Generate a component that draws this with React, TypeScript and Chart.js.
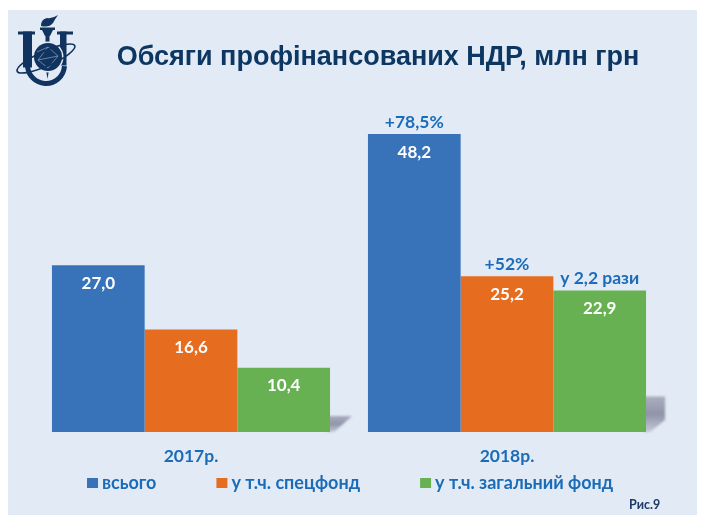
import React, { useEffect, useRef } from "react";
import { Chart, registerables } from "chart.js";

Chart.register(...registerables);

const TITLE = "Обсяги профінансованих НДР, млн грн";
const FIGURE = "Рис.9";
const categories = ["2017р.", "2018р."];
const seriesNames = ["всього", "у т.ч. спецфонд", "у т.ч. загальний фонд"];
const total = [27.0, 48.2];
const special = [16.6, 25.2];
const general = [10.4, 22.9];
const totalNotes = ["", "+78,5%"];
const specialNotes = ["", "+52%"];
const generalNotes = ["", "у 2,2 рази"];
const colors = ["#3873BA", "#E66C1F", "#67B153"];

const PANEL = "#E2EAF5";
const NAVY = "#10345F";
const LABEL_BLUE = "#1B6CB8";
const LATO = "'Lato', sans-serif";
const notes = [totalNotes, specialNotes, generalNotes];

const fmt = (v: number) => v.toFixed(1).replace(".", ",");

function drawLogo(ctx: CanvasRenderingContext2D) {
  ctx.save();
  ctx.fillStyle = NAVY;
  ctx.strokeStyle = NAVY;
  // flame
  ctx.beginPath();
  ctx.moveTo(58, 15);
  ctx.quadraticCurveTo(52, 19, 47, 18);
  ctx.quadraticCurveTo(41, 19, 41, 26);
  ctx.quadraticCurveTo(49, 28, 53, 23);
  ctx.quadraticCurveTo(55, 19, 58, 15);
  ctx.fill();
  // torch cup and stem
  ctx.fillRect(40, 27.5, 15, 2.5);
  ctx.beginPath();
  ctx.moveTo(42, 30);
  ctx.lineTo(53, 30);
  ctx.lineTo(50, 36);
  ctx.lineTo(45, 36);
  ctx.fill();
  ctx.fillRect(45.5, 36, 4, 10);
  ctx.beginPath();
  ctx.moveTo(46, 70);
  ctx.lineTo(49, 70);
  ctx.lineTo(47.5, 79);
  ctx.fill();
  // I and U serifs and stems
  ctx.fillRect(18, 31.5, 17, 3);
  ctx.fillRect(23, 31.5, 9, 36);
  ctx.fillRect(57, 31.5, 16, 3);
  ctx.fillRect(60, 31.5, 6.5, 34);
  // U bowl
  ctx.lineWidth = 5;
  ctx.beginPath();
  ctx.arc(46, 65, 18.5, 0.02 * Math.PI, 0.98 * Math.PI);
  ctx.stroke();
  // globe
  ctx.fillStyle = PANEL;
  ctx.beginPath();
  ctx.arc(48, 57, 15.5, 0, Math.PI * 2);
  ctx.fill();
  ctx.fillStyle = NAVY;
  ctx.beginPath();
  ctx.arc(48, 57, 14, 0, Math.PI * 2);
  ctx.fill();
  ctx.strokeStyle = "#8EA3BD";
  ctx.lineWidth = 0.7;
  ctx.beginPath();
  ctx.moveTo(37, 52);
  ctx.lineTo(48, 47);
  ctx.lineTo(58, 56);
  ctx.lineTo(48, 68);
  ctx.lineTo(38, 60);
  ctx.lineTo(48, 47);
  ctx.moveTo(38, 60);
  ctx.lineTo(58, 56);
  ctx.stroke();
  // orbit
  ctx.strokeStyle = NAVY;
  ctx.lineWidth = 1.6;
  ctx.beginPath();
  ctx.ellipse(46, 58.5, 31.5, 7.5, (-24 * Math.PI) / 180, 0, Math.PI * 2);
  ctx.stroke();
  ctx.restore();
}

const backdrop = {
  id: "backdrop",
  beforeDraw(chart: any) {
    const { ctx } = chart;
    ctx.save();
    ctx.fillStyle = "#FFFFFF";
    ctx.fillRect(0, 0, 703, 515);
    ctx.fillStyle = PANEL;
    ctx.fillRect(8, 10, 689, 505);
    drawLogo(ctx);
    ctx.fillStyle = "#0D3763";
    ctx.font = "bold 27px 'Liberation Sans', Arial, sans-serif";
    ctx.textAlign = "center";
    ctx.textBaseline = "middle";
    ctx.fillText(TITLE, 378, 58);
    ctx.restore();
  },
  beforeDatasetsDraw(chart: any) {
    // soft cast shadow behind the last bar of each group
    const { ctx } = chart;
    const meta = chart.getDatasetMeta(2);
    meta.data.forEach((bar: any) => {
      const right = bar.x + bar.width / 2;
      const shadowTop = bar.base - (bar.base - bar.y) * 0.25;
      const tall = bar.base - shadowTop > 25;
      const reach = tall ? 19 : 22;
      const g = ctx.createLinearGradient(right, bar.base, right, shadowTop);
      g.addColorStop(0, "rgba(140,143,165,0.35)");
      g.addColorStop(0.5, "rgba(140,143,165,0.95)");
      g.addColorStop(1, "rgba(160,163,180,0.85)");
      ctx.save();
      ctx.filter = "blur(1px)";
      ctx.fillStyle = g;
      ctx.beginPath();
      ctx.moveTo(right - 3, shadowTop);
      ctx.lineTo(right + reach, shadowTop);
      if (tall) {
        ctx.lineTo(right + reach, bar.base - 12);
      }
      ctx.lineTo(right + 4, bar.base);
      ctx.lineTo(right - 3, bar.base);
      ctx.closePath();
      ctx.fill();
      ctx.restore();
    });
  },
  afterDatasetsDraw(chart: any) {
    const { ctx } = chart;
    ctx.save();
    ctx.textAlign = "center";
    ctx.textBaseline = "middle";
    chart.data.datasets.forEach((ds: any, i: number) => {
      chart.getDatasetMeta(i).data.forEach((bar: any, j: number) => {
        ctx.font = `bold 17px ${LATO}`;
        ctx.fillStyle = "#FFFFFF";
        ctx.fillText(fmt(ds.data[j]), bar.x, bar.y + 18);
        if (notes[i][j]) {
          ctx.font = `bold 17.5px ${LATO}`;
          ctx.fillStyle = LABEL_BLUE;
          ctx.fillText(notes[i][j], bar.x, bar.y - 12);
        }
      });
    });
    // legend row
    ctx.textAlign = "left";
    ctx.font = `bold 18px ${LATO}`;
    const gap = 60;
    const widths = seriesNames.map((n) => ctx.measureText(n).width + 15);
    let x = 87;
    seriesNames.forEach((name, i) => {
      ctx.fillStyle = colors[i];
      ctx.fillRect(x, 478, 11, 10);
      ctx.fillStyle = LABEL_BLUE;
      ctx.fillText(name, x + 15, 483);
      x += widths[i] + gap;
    });
    ctx.fillStyle = "#1C3A66";
    ctx.font = `bold 12.5px ${LATO}`;
    ctx.fillText(FIGURE, 629, 505);
    ctx.restore();
  },
};

export default function App() {
  const ref = useRef<HTMLCanvasElement>(null);
  useEffect(() => {
    if (!ref.current) return;
    const chart = new Chart(ref.current, {
      type: "bar",
      data: {
        labels: categories,
        datasets: [total, special, general].map((data, i) => ({
          label: seriesNames[i],
          data,
          backgroundColor: colors[i],
          borderWidth: 0,
          categoryPercentage: 0.88,
          barPercentage: 1,
        })),
      },
      options: {
        animation: false,
        responsive: false,
        layout: { padding: { top: 123, left: 33, right: 38, bottom: 43 } },
        plugins: {
          legend: { display: false },
          title: { display: false },
          tooltip: { enabled: false },
        },
        scales: {
          y: { display: false, min: 0, max: 50 },
          x: {
            grid: { display: false, drawTicks: false },
            border: { display: false },
            afterFit(scale: any) {
              scale.height = 40;
            },
            ticks: {
              padding: 14,
              color: LABEL_BLUE,
              font: { family: "Lato", size: 17.5, weight: "bold" },
            },
          },
        },
      },
      plugins: [backdrop],
    } as any);
    return () => chart.destroy();
  }, []);
  return (
    <canvas
      ref={ref}
      width={703}
      height={515}
      style={{ position: "absolute", left: 0, top: 0, display: "block" }}
    />
  );
}
